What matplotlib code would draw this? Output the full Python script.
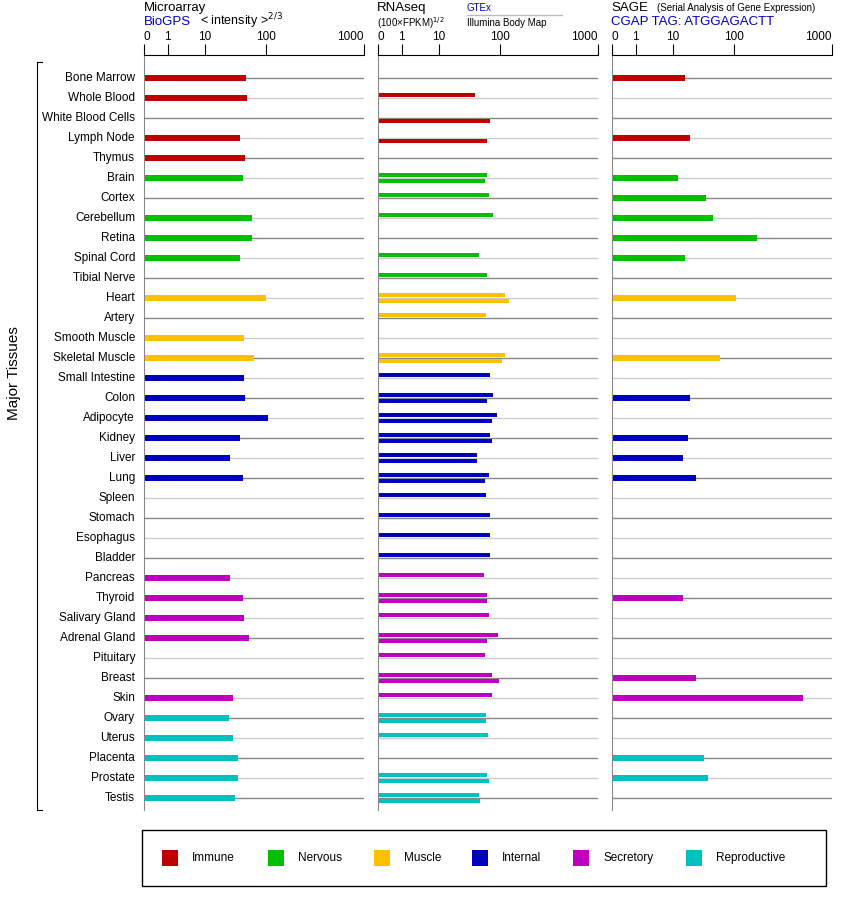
import numpy as np
import matplotlib
matplotlib.use("Agg")
import matplotlib.pyplot as plt
from matplotlib.patches import Rectangle
from matplotlib.lines import Line2D

plt.rcParams["font.family"] = "Liberation Sans"

# --- data ---
tissues = ["Bone Marrow", "Whole Blood", "White Blood Cells", "Lymph Node", "Thymus",
           "Brain", "Cortex", "Cerebellum", "Retina", "Spinal Cord", "Tibial Nerve",
           "Heart", "Artery", "Smooth Muscle", "Skeletal Muscle",
           "Small Intestine", "Colon", "Adipocyte", "Kidney", "Liver", "Lung", "Spleen",
           "Stomach", "Esophagus", "Bladder",
           "Pancreas", "Thyroid", "Salivary Gland", "Adrenal Gland", "Pituitary", "Breast",
           "Skin", "Ovary", "Uterus", "Placenta", "Prostate", "Testis"]
groups = ["Immune"] * 5 + ["Nervous"] * 6 + ["Muscle"] * 4 + ["Internal"] * 10 + \
         ["Secretory"] * 7 + ["Reproductive"] * 5
group_names = ["Immune", "Nervous", "Muscle", "Internal", "Secretory", "Reproductive"]
group_colors = ["#c00000", "#00c000", "#ffc000", "#0000c0", "#c000c0", "#00c0c0"]

microarray = [47, 49, 0, 37, 45, 42, 0, 59, 59, 37, 0, 100, 0, 44, 63, 44, 45, 104, 37,
              26, 42, 0, 0, 0, 0, 26, 42, 44, 53, 0, 0, 29, 25, 29, 35, 35, 31]
gtex = [0, 39, 0, 0, 0, 61, 66, 77, 0, 45, 61, 112, 59, 0, 112, 69, 77, 89, 69, 42, 66,
        59, 69, 69, 69, 55, 61, 66, 93, 57, 74, 74, 59, 63, 0, 61, 45]
illumina = [0, 0, 69, 61, 0, 57, 0, 0, 0, 0, 0, 122, 0, 0, 105, 0, 61, 74, 74, 42, 57,
            0, 0, 0, 0, 0, 61, 0, 61, 0, 97, 0, 59, 0, 0, 66, 47]
sage = [16, 0, 0, 19.5, 0, 12.5, 35, 45, 172, 16, 0, 104, 0, 0, 59, 0, 19.5, 0, 18, 15,
        24, 0, 0, 0, 0, 0.05, 15, 0, 0, 0, 24, 507, 0, 0, 32, 37, 0]

ticks = [0, 1, 10, 100, 1000]
tick_frac = [0, 0.107, 0.275, 0.555, 1.0]

W, H = 842, 900


def fwd(v):
    v = np.asarray(v, float)
    lg = np.log10(np.maximum(v, 1))
    return np.where(v <= 1, v * tick_frac[1], np.interp(lg, [0, 1, 2, 3], tick_frac[1:]))


def inv(u):
    u = np.asarray(u, float)
    return np.where(u <= tick_frac[1], u / tick_frac[1],
                    10 ** np.interp(u, tick_frac[1:], [0, 1, 2, 3]))


def px(x, y):
    return x / W, 1 - y / H


fig = plt.figure(figsize=(W / 100, H / 100), dpi=100)
cmap = dict(zip(group_names, group_colors))
colors = [cmap[g] for g in groups]
n = len(tissues)
top_px, bot_px = 55, 810
ylim = (36 + (bot_px - 798) / 20, -(78 - top_px) / 20)


def make_ax(x0, x1):
    ax = fig.add_axes([x0 / W, 1 - bot_px / H, (x1 - x0) / W, (bot_px - top_px) / H])
    ax.set_xscale("function", functions=(fwd, inv))
    ax.set_xlim(0, 1000)
    ax.set_ylim(*ylim)
    for s in ["right", "bottom"]:
        ax.spines[s].set_visible(False)
    ax.spines["left"].set_color("#888888")
    ax.spines["top"].set_color("black")
    ax.xaxis.tick_top()
    ax.set_xticks(ticks)
    ax.set_xticklabels([str(t) for t in ticks])
    ax.xaxis.set_minor_locator(matplotlib.ticker.NullLocator())
    ax.tick_params(axis="x", direction="out", length=8, labelsize=8.5, pad=1)
    labs = ax.get_xticklabels()
    labs[0].set_horizontalalignment("left")
    labs[-1].set_horizontalalignment("right")
    ax.set_yticks([])
    for i in range(n):
        ax.axhline(i, color="#888888" if i % 2 == 0 else "#cccccc", lw=1, zorder=0)
    return ax


ax1 = make_ax(144, 364)
ax1.barh(range(n), microarray, height=0.3, color=colors, zorder=2)

ax2 = make_ax(378, 598)
yy = np.arange(n)
ax2.barh(yy - 0.15, gtex, height=0.2, color=colors, zorder=2)
ax2.barh(yy + 0.15, illumina, height=0.2, color=colors, zorder=2)

ax3 = make_ax(612, 832)
ax3.barh(range(n), sage, height=0.3, color=colors, zorder=2)

# tissue labels
for i, t in enumerate(tissues):
    fig.text(*px(135, 78 + 20 * i), t, ha="right", va="center", fontsize=8.5)

# bracket and title
fig.add_artist(Line2D([37 / W, 37 / W], [1 - 62 / H, 1 - 810 / H], color="black", lw=0.8))
fig.add_artist(Line2D([37 / W, 42 / W], [1 - 62 / H, 1 - 62 / H], color="black", lw=0.8))
fig.add_artist(Line2D([37 / W, 42 / W], [1 - 810 / H, 1 - 810 / H], color="black", lw=0.8))
fig.text(*px(14, 373), "Major Tissues", rotation=90, ha="center", va="center", fontsize=11)

# headers
fig.text(*px(144, 8), "Microarray", fontsize=9.5, va="center")
fig.text(*px(144, 22), "BioGPS", fontsize=9.5, va="center", color="#0000c0")
fig.text(*px(200, 21), r"< intensity >$^{2/3}$", fontsize=9, va="center")
fig.text(*px(377, 8), "RNAseq", fontsize=9.5, va="center")
fig.text(*px(377, 23), r"(100×FPKM)$^{1/2}$", fontsize=7, va="center")
fig.text(*px(467, 8), "GTEx", fontsize=7, va="center", color="#0000c0")
fig.add_artist(Line2D([467 / W, 562 / W], [1 - 15 / H, 1 - 15 / H], color="#bbbbbb", lw=1))
fig.text(*px(467, 23), "Illumina Body Map", fontsize=7, va="center")
fig.text(*px(611, 8), "SAGE", fontsize=9.5, va="center")
fig.text(*px(657, 8), "(Serial Analysis of Gene Expression)", fontsize=7, va="center")
fig.text(*px(611, 22), "CGAP TAG: ATGGAGACTT", fontsize=9.5, va="center", color="#0000c0")

# legend box
fig.add_artist(Rectangle(px(142, 886), (826 - 142) / W, 56 / H, transform=fig.transFigure,
                         fill=False, edgecolor="black", lw=1))
leg_x = [162, 268, 374, 472, 573, 686]
for x, name, c in zip(leg_x, group_names, group_colors):
    fig.add_artist(Rectangle(px(x, 866), 16 / W, 16 / H, transform=fig.transFigure,
                             facecolor=c, edgecolor="none"))
    fig.text(*px(x + 30, 858), name, fontsize=8.5, va="center")

fig.savefig("out.png", dpi=100)
